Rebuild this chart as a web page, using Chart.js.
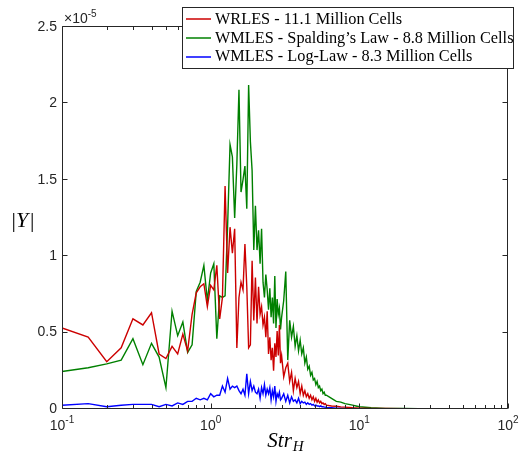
<!DOCTYPE html>
<html><head><meta charset="utf-8">
<script src="https://cdn.jsdelivr.net/npm/chart.js@4"></script>
<style>html,body{margin:0;padding:0;background:#fff;overflow:hidden}#wrap{position:relative;width:519px;height:455px}</style>
</head><body><div id="wrap"><canvas id="c" width="519" height="455"></canvas></div>
<script>
// Strouhal number (x) grid
const strH = [
  0.1,0.15,0.2,0.25,0.3,0.35,0.4,0.45,0.5,0.55,
  0.6,0.65,0.7,0.75,0.8,0.85,0.9,0.95,1.0,1.05,
  1.1,1.15,1.2,1.25,1.3,1.35,1.4,1.45,1.5,1.55,
  1.6,1.65,1.7,1.75,1.8,1.85,1.9,1.95,2.0,2.05,
  2.1,2.15,2.2,2.25,2.3,2.35,2.4,2.45,2.5,2.55,
  2.6,2.65,2.7,2.75,2.8,2.85,2.9,2.95,3.0,
  3.1,3.2,3.3,3.4,3.5,3.6,3.7,3.8,3.9,4.0,
  4.1,4.2,4.3,4.4,4.5,4.6,4.7,4.8,4.9,5.0,
  5.1,5.2,5.3,5.4,5.5,5.6,5.7,5.8,5.9,6.0,
  6.5,7,7.5,8,8.5,9,9.5,10,
  12,15,20,25,30,40,50
];
// |Y| values in units of 1e-5
const wrles = [
  0.53,0.47,0.31,0.40,0.59,0.55,0.63,0.36,0.33,0.41,
  0.36,0.49,0.38,0.62,0.76,0.80,0.82,0.67,0.81,0.78,
  0.94,0.59,0.73,1.46,0.89,1.19,1.02,1.18,0.40,0.73,
  0.83,0.78,1.08,0.80,0.40,0.42,0.97,0.58,0.86,0.56,
  0.80,0.62,0.67,0.55,0.60,0.47,0.64,0.36,0.47,0.32,
  0.40,0.25,0.43,0.34,0.51,0.35,0.55,0.30,0.35,
  0.21,0.27,0.30,0.18,0.24,0.12,0.20,0.14,0.18,0.10,
  0.15,0.09,0.12,0.08,0.10,0.07,0.09,0.06,0.08,0.05,
  0.07,0.045,0.06,0.04,0.05,0.035,0.04,0.03,0.035,0.025,
  0.02,0.018,0.014,0.012,0.01,0.008,0.007,0.006,
  0.004,0.003,0.002,0.002,0.001,0.001,0.001
];
const wmlesSpalding = [
  0.245,0.27,0.295,0.32,0.46,0.29,0.43,0.34,0.14,0.64,
  0.48,0.57,0.37,0.42,0.77,0.83,0.94,0.71,0.89,0.95,
  0.46,0.74,0.73,0.74,1.20,1.73,1.65,1.25,1.60,2.09,
  1.42,1.50,1.59,1.31,2.12,1.75,1.56,1.04,1.33,1.04,
  1.17,0.95,1.18,0.83,0.73,0.88,0.78,0.65,0.79,0.60,
  0.73,0.56,0.87,0.53,0.72,0.62,0.66,0.52,0.60,
  0.71,0.90,0.32,0.58,0.47,0.54,0.41,0.48,0.38,0.45,
  0.36,0.40,0.30,0.34,0.26,0.28,0.22,0.24,0.19,0.20,
  0.16,0.18,0.14,0.15,0.12,0.13,0.10,0.11,0.09,0.09,
  0.07,0.05,0.045,0.035,0.03,0.025,0.02,0.015,
  0.008,0.004,0.003,0.002,0.002,0.001,0.001
];
const wmlesLogLaw = [
  0.025,0.035,0.015,0.025,0.03,0.03,0.03,0.015,0.03,0.02,
  0.04,0.03,0.05,0.05,0.07,0.06,0.07,0.06,0.10,0.08,
  0.09,0.09,0.15,0.11,0.20,0.13,0.15,0.14,0.15,0.12,
  0.10,0.13,0.09,0.23,0.10,0.18,0.12,0.15,0.11,0.10,
  0.13,0.07,0.14,0.10,0.16,0.09,0.13,0.10,0.14,0.06,
  0.12,0.08,0.15,0.05,0.10,0.08,0.11,0.06,0.07,
  0.10,0.05,0.09,0.04,0.08,0.05,0.06,0.04,0.07,0.035,
  0.05,0.04,0.045,0.03,0.04,0.03,0.035,0.025,0.03,0.02,
  0.025,0.02,0.02,0.015,0.02,0.015,0.015,0.012,0.012,0.01,
  0.008,0.006,0.005,0.004,0.003,0.003,0.002,0.002,
  0.002,0.001,0.001,0.001,0.001,0.001,0.001
];
const seriesLabels = [
  'WRLES - 11.1 Million Cells',
  'WMLES - Spalding\u2019s Law - 8.8 Million Cells',
  'WMLES - Log-Law - 8.3 Million Cells'
];
const seriesColors = ['#cc0000', '#008000', '#0000ff'];
const yTicks = [0, 0.5, 1, 1.5, 2, 2.5];
const yTickLabels = ['0', '0.5', '1', '1.5', '2', '2.5'];
const xTickExps = [-1, 0, 1, 2];
const yExponent = '-5';

const AX = '#262626';
const SANS = '"Liberation Sans", Arial, Helvetica, sans-serif';
const SERIF = '"Liberation Serif", "Times New Roman", serif';

const axesPlugin = {
  id: 'matlabAxes',
  afterDraw(chart) {
    const ctx = chart.ctx;
    const xs = chart.scales.x, ys = chart.scales.y;
    const a = chart.chartArea;
    const L = Math.round(a.left) + 0.5, R = Math.round(a.right) - 0.5;
    const T = Math.round(a.top) - 0.5, B = Math.round(a.bottom) - 0.5;
    ctx.save();
    ctx.strokeStyle = AX; ctx.lineWidth = 1;
    ctx.beginPath();
    ctx.rect(L, T, R - L, B - T);
    for (let e = -1; e <= 2; e++) {
      for (let m = 1; m <= 9; m++) {
        const v = m * Math.pow(10, e);
        if (v > 100.0001) break;
        const px = Math.round(xs.getPixelForValue(v)) + 0.5;
        const len = (m === 1) ? 5 : 3.5;
        ctx.moveTo(px, B); ctx.lineTo(px, B - len);
        ctx.moveTo(px, T); ctx.lineTo(px, T + len);
      }
    }
    yTicks.forEach(v => {
      const py = Math.round(ys.getPixelForValue(v)) - 0.5;
      ctx.moveTo(L, py); ctx.lineTo(L + 5, py);
      ctx.moveTo(R, py); ctx.lineTo(R - 5, py);
    });
    ctx.stroke();

    ctx.fillStyle = AX;
    ctx.font = '14px ' + SANS;
    ctx.textAlign = 'right'; ctx.textBaseline = 'middle';
    yTicks.forEach((v, i) => {
      ctx.fillText(yTickLabels[i], a.left - 5, ys.getPixelForValue(v));
    });
    ctx.textBaseline = 'alphabetic'; ctx.textAlign = 'left';
    xTickExps.forEach(e => {
      const px = xs.getPixelForValue(Math.pow(10, e));
      ctx.font = '14px ' + SANS;
      const w1 = ctx.measureText('10').width;
      ctx.font = '10px ' + SANS;
      const sup = String(e);
      const w2 = ctx.measureText(sup).width;
      const x0 = px - (w1 + w2) / 2;
      ctx.font = '14px ' + SANS;
      ctx.fillText('10', x0, 430);
      ctx.font = '10px ' + SANS;
      ctx.fillText(sup, x0 + w1, 423);
    });
    ctx.font = '14px ' + SANS;
    ctx.fillText('\u00d710', 64, 23);
    const wx = ctx.measureText('\u00d710').width;
    ctx.font = '10px ' + SANS;
    ctx.fillText(yExponent, 64 + wx, 16.5);

    ctx.fillStyle = '#000';
    ctx.font = 'italic 21px ' + SERIF;
    const wS = ctx.measureText('Str').width;
    ctx.font = 'italic 15px ' + SERIF;
    const wH = ctx.measureText('H').width;
    const xt = (a.left + a.right) / 2 - (wS + wH) / 2;
    ctx.font = 'italic 21px ' + SERIF;
    ctx.fillText('Str', xt, 447);
    ctx.font = 'italic 15px ' + SERIF;
    ctx.fillText('H', xt + wS + 1, 451);

    ctx.font = '22px ' + SERIF;
    const wb = ctx.measureText('|').width;
    ctx.font = 'italic 22px ' + SERIF;
    const wy = ctx.measureText('Y').width;
    let xx = 23 - (2 * wb + wy + 2) / 2;
    ctx.font = '22px ' + SERIF;
    ctx.fillText('|', xx, 227); xx += wb;
    ctx.font = 'italic 22px ' + SERIF;
    ctx.fillText('Y', xx, 227); xx += wy + 2;
    ctx.font = '22px ' + SERIF;
    ctx.fillText('|', xx, 227);

    const lx = 182.5, ly = 7.5, lw = 331, lh = 61;
    ctx.fillStyle = '#fff';
    ctx.fillRect(lx, ly, lw, lh);
    ctx.strokeStyle = AX; ctx.lineWidth = 1;
    ctx.strokeRect(lx, ly, lw, lh);
    const lineY = [19, 38, 57];
    const textY = [23.5, 42.5, 61];
    ctx.font = '16.3px ' + SERIF;
    seriesLabels.forEach((s, i) => {
      ctx.strokeStyle = seriesColors[i]; ctx.lineWidth = 1.5;
      ctx.beginPath(); ctx.moveTo(186, lineY[i]); ctx.lineTo(211, lineY[i]); ctx.stroke();
      ctx.fillStyle = '#000';
      ctx.fillText(s, 215, textY[i]);
    });
    ctx.restore();
  }
};

const mk = (vals) => strH.map((x, i) => ({ x: x, y: vals[i] }));
new Chart(document.getElementById('c').getContext('2d'), {
  type: 'line',
  data: {
    datasets: [
      { label: seriesLabels[0], data: mk(wrles), borderColor: seriesColors[0], borderWidth: 1.4, pointRadius: 0, tension: 0, fill: false },
      { label: seriesLabels[1], data: mk(wmlesSpalding), borderColor: seriesColors[1], borderWidth: 1.4, pointRadius: 0, tension: 0, fill: false },
      { label: seriesLabels[2], data: mk(wmlesLogLaw), borderColor: seriesColors[2], borderWidth: 1.4, pointRadius: 0, tension: 0, fill: false }
    ]
  },
  options: {
    responsive: false, animation: false, devicePixelRatio: 1,
    layout: { padding: { left: 62, right: 11, top: 27, bottom: 46 } },
    scales: {
      x: { type: 'logarithmic', min: 0.1, max: 100, display: false },
      y: { type: 'linear', min: 0, max: 2.5, display: false }
    },
    plugins: { legend: { display: false }, tooltip: { enabled: false } }
  },
  plugins: [axesPlugin]
});
</script>
</body></html>
